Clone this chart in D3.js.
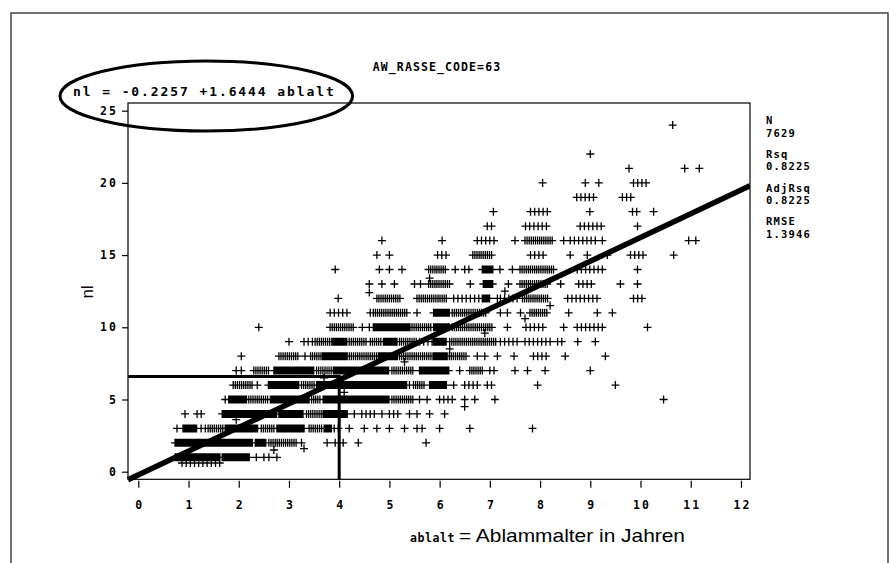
<!DOCTYPE html>
<html><head><meta charset="utf-8">
<script src="https://cdn.jsdelivr.net/npm/d3@7"></script>
<style>body{margin:0;background:#fff}svg{display:block}</style>
</head><body>
<svg id="chart" width="890" height="563"></svg>
<script>
// ---------------- data ----------------
const title = "AW_RASSE_CODE=63";
const equation = "nl = -0.2257 +1.6444 ablalt";
const fitIntercept = -0.2257;
const fitSlope = 1.6444;
const statLabels = ["N", "Rsq", "AdjRsq", "RMSE"];
const statValues = ["7629", "0.8225", "0.8225", "1.3946"];
const xTicks = [0,1,2,3,4,5,6,7,8,9,10,11,12];
const yTicks = [0,5,10,15,20,25];
const xDomain = [-0.205, 12.18];
const yDomain = [-0.526, 25.53];
const refAge = 4;      // hand-drawn reference lines
const refNl = 6.6;
// scatter: one entry per nl value; runs of ages (years).
// "a-b" = a marker at every month from a to b, "a-b~" = half-month spacing,
// "a-b#" = heavily overlapping (solid) run, single values = one marker
const rowNl = [0.6, 1, 2, 3, 4, 5, 6, 7, 8, 9, 10, 11, 12, 13, 14, 15, 16, 17, 18, 19, 20, 21, 22, 24];
const rowRuns = [
  "0.87-1.63",
  "0.73-1.63#, 1.67, 1.69-2.23#, 2.35, 2.5, 2.6, 2.76",
  "0.73-2.29#, 2.33-2.55#, 2.6-3.16~, 3.25, 3.76, 3.92, 4.08, 4.38, 5.73",
  "0.77-0.85, 0.89-1.17#, 1.25-1.35, 1.39-1.69~, 1.73-2.39#, 2.45-2.7~, 2.76-3.32#, 3.4-3.65~, 3.7-3.85#, 3.9-4.05, 4.2, 4.5, 4.75, 5.0, 5.3, 5.55, 5.65, 6.0, 6.6, 7.85",
  "0.93, 1.17-1.33, 1.67-2.76#, 2.8-3.29#, 3.35-3.65~, 3.68-4.16#, 4.3, 4.45-4.7, 4.85, 5.0-5.2, 5.4, 5.55, 5.8, 6.1",
  "1.73, 1.8-2.17#, 2.2-2.6~, 2.63-3.42#, 3.45-3.65~, 3.68-5.0#, 5.05-5.5~, 5.6, 5.75, 6.0-6.25, 6.5, 6.7, 7.1, 10.46",
  "1.89-2.3~, 2.37, 2.59-3.2#, 3.25-3.5~, 3.55-5.35#, 5.4, 5.48-5.7~, 5.8-6.15#, 6.28, 6.5-6.8, 6.95-7.07, 7.95, 9.5",
  "1.95, 2.05, 2.3-2.6~, 2.7-3.5#, 3.55-3.9~, 3.9-5.0#, 5.05-5.5~, 5.6-6.2#, 6.4, 6.6-6.85~, 7.0-7.15, 7.5, 7.75, 8.1, 9.0",
  "2.05, 2.8-3.2~, 3.32, 3.43-3.67~, 3.67-4.16#, 4.16-4.76~, 4.78-5.16#, 5.16-5.88~, 5.88-6.15#, 6.15-6.55~, 6.75, 6.9, 7.15, 7.48, 7.87-8.17, 8.5, 9.3",
  "3.0, 3.3-3.5, 3.52-3.88~, 3.88-4.16#, 4.2-4.56~, 4.62-4.85~, 4.88-5.16#, 5.2-5.55~, 5.6-5.85, 5.88-6.15#, 6.2-7.15~, 7.21-7.55, 7.7-8.2, 8.35-8.5, 8.75, 9.1",
  "2.4, 3.82-4.28~, 4.46, 4.6, 4.68-5.42#, 5.45-5.85~, 5.88-6.21#, 6.25-7.07~, 7.35, 7.72-8.08, 8.47, 8.74-9.27, 10.14",
  "3.82-4.16, 4.62, 4.68-5.35~, 5.55, 5.88-6.21#, 6.25-6.95~, 7.21, 7.35, 7.61, 7.8-8.17~, 8.57, 9.14, 9.44",
  "3.98, 4.75-5.22~, 5.55-6.15~, 6.28-6.81, 6.85-7.01#, 7.15, 7.21-7.55, 7.65-8.15~, 8.55-9.2, 9.86-10.06",
  "4.6, 4.85, 5.1, 5.5, 5.62, 5.78-6.2~, 6.61, 6.87-7.07#, 7.37, 7.6-8.15~, 8.41, 8.77-9.1, 9.6, 9.94",
  "3.92, 4.8, 5.0, 5.25, 5.78-6.12~, 6.31, 6.5-6.65, 6.85-7.07#, 7.2, 7.45, 7.6-8.3~, 8.74-9.27, 9.94",
  "4.75, 5.0, 5.96-6.15, 6.66-7.07~, 7.81-8.1, 8.6, 8.94, 9.34, 9.8-10.1, 10.66",
  "4.85, 6.05, 6.75-7.1, 7.5, 7.7-8.25~, 8.47, 8.6-9.1, 9.24, 10.96, 11.1",
  "6.95-7.1, 7.71-8.17, 8.8-9.24, 9.94",
  "7.07, 7.81-8.21, 8.99, 9.84-10.0, 10.26",
  "8.73-9.07, 9.64-9.84",
  "8.05, 8.9, 9.17, 9.86-10.16",
  "9.77, 10.88, 11.17",
  "9.0",
  "10.64"
];
// single markers lying between the rows (age, nl)
const offRowAge = [2.7, 3.3, 1.95, 4.1, 5.3, 6.2, 6.9, 7.7, 8.2, 5.8, 4.6, 7.3, 3.7, 6.5];
const offRowNl  = [1.5, 1.6, 3.6, 5.5, 7.6, 8.5, 9.6, 10.6, 11.5, 13.4, 12.4, 12.5, 6.5, 4.5];

// ---------------- layout ----------------
const W = 890, H = 563;
const plot = {left: 128, right: 750, top: 103, bottom: 479.3};
const mono = "'DejaVu Sans Mono', monospace";
const sans = "'Liberation Sans', Arial, sans-serif";

const svg = d3.select("#chart");
svg.append("rect").attr("width", W).attr("height", H).attr("fill", "#fff");

// outer page frame
svg.append("path").attr("d", `M11,${H+2}V13H888V${H+2}`)
  .attr("fill", "none").attr("stroke", "#444").attr("stroke-width", 1.5);

const x = d3.scaleLinear().domain(xDomain).range([plot.left, plot.right]);
const y = d3.scaleLinear().domain(yDomain).range([plot.bottom, plot.top]);

svg.append("defs").append("clipPath").attr("id", "clip")
  .append("rect").attr("x", plot.left - 4).attr("y", plot.top)
  .attr("width", plot.right - plot.left + 4).attr("height", plot.bottom - plot.top + 3);

// points from runs
const points = [];
rowNl.forEach((nl, i) => {
  rowRuns[i].split(",").map(s => s.trim()).filter(Boolean).forEach(tok => {
    const dense = tok.endsWith("#"), half = tok.endsWith("~");
    const parts = tok.replace(/[#~]/, "").split("-").map(Number);
    if (parts.length === 1) { points.push([parts[0], nl]); return; }
    const step = dense ? 1 / 48 : half ? 1 / 24 : 1 / 12;
    for (let a = parts[0]; a <= parts[1] + 1e-6; a += step) points.push([a, nl]);
  });
});
offRowAge.forEach((a, i) => points.push([a, offRowNl[i]]));

const s = 4;
svg.append("path")
  .attr("d", points.map(p => {
    const px = x(p[0]), py = y(p[1]);
    return `M${(px - s).toFixed(1)},${py.toFixed(1)}h${2*s}M${px.toFixed(1)},${(py - s).toFixed(1)}v${2*s}`;
  }).join(""))
  .attr("fill", "none").attr("stroke", "#000").attr("stroke-width", 1.3);

// regression line
const fit = d3.line().x(d => x(d)).y(d => y(fitIntercept + fitSlope * d));
svg.append("path").attr("d", fit(xDomain))
  .attr("fill", "none").attr("stroke", "#000").attr("stroke-width", 5.5)
  .attr("clip-path", "url(#clip)");

// reference lines
svg.append("path")
  .attr("d", `M${x(xDomain[0])},${y(refNl)}H${x(refAge) + 1.5}`)
  .attr("stroke", "#000").attr("stroke-width", 3);
svg.append("path")
  .attr("d", `M${x(refAge)},${y(refNl)}V${y(yDomain[0])}`)
  .attr("stroke", "#000").attr("stroke-width", 3);

// plot frame
svg.append("rect")
  .attr("x", plot.left).attr("y", plot.top)
  .attr("width", plot.right - plot.left).attr("height", plot.bottom - plot.top)
  .attr("fill", "none").attr("stroke", "#000").attr("stroke-width", 1.2);

// axes
const xAxis = svg.append("g").attr("transform", `translate(0,${plot.bottom + 1.5})`)
  .call(d3.axisBottom(x).tickValues(xTicks).tickSize(7).tickPadding(13).tickFormat(d3.format("d")));
xAxis.select(".domain").remove();
xAxis.selectAll("text").attr("font-family", mono).attr("font-weight", "bold")
  .attr("font-size", 11.5).attr("letter-spacing", 2.2).attr("dx", 1.1).attr("fill", "#000");

const yAxis = svg.append("g").attr("transform", `translate(${plot.left},0)`)
  .call(d3.axisLeft(y).tickValues(yTicks).tickSize(6).tickPadding(6).tickFormat(d3.format("d")));
yAxis.select(".domain").remove();
yAxis.selectAll("text").attr("font-family", mono).attr("font-weight", "bold")
  .attr("font-size", 11.5).attr("letter-spacing", 2.2).attr("dx", 2.2).attr("fill", "#000");
svg.selectAll(".tick line").attr("stroke", "#000").attr("stroke-width", 1.2);

// title
svg.append("text").attr("x", 437).attr("y", 71).attr("text-anchor", "middle")
  .attr("font-family", mono).attr("font-weight", "bold").attr("font-size", 11.5)
  .attr("letter-spacing", 1.1).text(title);

// equation + ellipse
const eq = svg.append("text").attr("x", 73).attr("y", 96)
  .attr("font-family", mono).attr("font-weight", "bold").attr("font-size", 13)
  .attr("letter-spacing", 1.9).text(equation);
const bb = eq.node().getBBox();
svg.append("ellipse")
  .attr("cx", bb.x + bb.width / 2 + 2).attr("cy", 96)
  .attr("rx", bb.width / 2 + 15).attr("ry", 35)
  .attr("fill", "none").attr("stroke", "#000").attr("stroke-width", 3);

// statistics
const stats = svg.append("g").attr("font-family", mono).attr("font-weight", "bold")
  .attr("font-size", 10.5).attr("letter-spacing", 1.2);
statLabels.forEach((lab, i) => {
  stats.append("text").attr("x", 766).attr("y", 124 + i * 33.8).text(lab);
  stats.append("text").attr("x", 766).attr("y", 136.5 + i * 33.8).text(statValues[i]);
});

// axis titles
svg.append("text").attr("transform", "translate(93,292) rotate(-90)")
  .attr("text-anchor", "middle").attr("font-family", sans).attr("font-size", 17).text("nl");

svg.append("text").attr("x", 410).attr("y", 542)
  .attr("font-family", mono).attr("font-weight", "bold")
  .attr("font-size", 11.5).attr("letter-spacing", 0.6).text("ablalt");
svg.append("text").attr("x", 459).attr("y", 542)
  .attr("font-family", sans).attr("font-size", 19)
  .attr("textLength", 226).attr("lengthAdjust", "spacingAndGlyphs")
  .text("= Ablammalter in Jahren");
</script>
</body></html>
